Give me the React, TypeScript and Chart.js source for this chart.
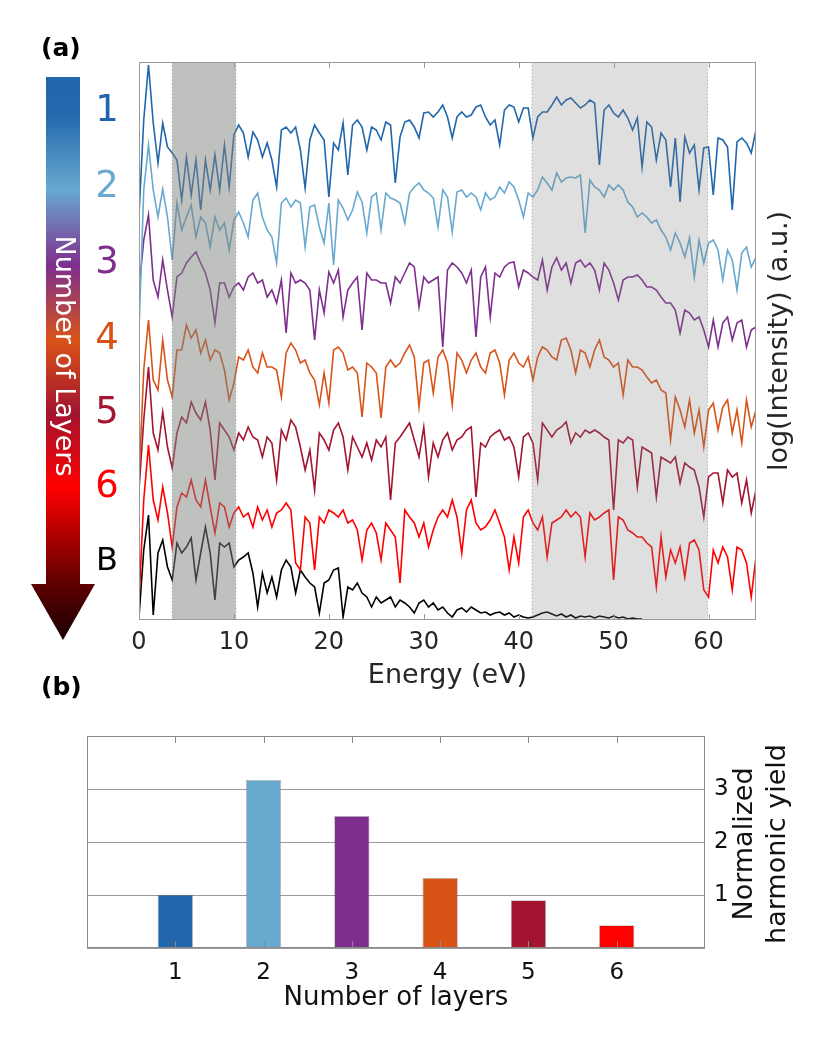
import React, { useEffect, useRef } from 'react';
import Chart from 'chart.js/auto';

const FONT = '"DejaVu Sans", sans-serif';

// energy grid of the spectra (eV), one sample every 0.5 eV from 0 to 65
const ENERGY = Array.from({ length: 131 }, (_, i) => i * 0.5);

// log(intensity), already stacked as in the figure (a.u.)
const SPECTRUM_1 = [
  40.5, 50, 55.5, 49.7, 45.7, 49.7, 47.3, 46.7, 46, 42,
  46.3, 42.5, 46, 41, 46, 43, 46.5, 43, 47.5, 43.3,
  48.5, 49.5, 48.7, 46.3, 48.8, 48, 46.3, 47.7, 46, 43.3,
  49, 49.3, 48.7, 49.3, 47, 43.2, 48, 49.5, 48.7, 48,
  42.3, 47.7, 47, 49.7, 44.5, 49.5, 50, 49.3, 47, 49.3,
  49, 48, 49.8, 49.5, 43.7, 48.3, 49.8, 50, 49.3, 48.2,
  50.7, 50.8, 50.3, 50.8, 51.5, 50.3, 48.2, 50.3, 50.8, 50.3,
  50.5, 51.3, 51.5, 50.3, 49.5, 50, 47.5, 51, 51.5, 51.3,
  49.8, 51.2, 51.2, 48.2, 50.3, 50.8, 50.8, 51.5, 52.3, 51.5,
  52, 52.2, 51.7, 51.2, 51.5, 52, 51.7, 45.5, 51, 51.5,
  50.7, 50.3, 51, 50.2, 49, 50.2, 45.3, 49.8, 49.3, 46,
  48.7, 48, 43.3, 48.2, 41.8, 48.3, 46.7, 47.5, 43, 47.2,
  47.3, 42.5, 48.2, 48, 47.3, 41, 47.8, 48.2, 47.7, 46.7,
  49,
];
const SPECTRUM_2 = [
  29, 43, 47.5, 43, 40.3, 43.1, 40.3, 36, 41.7, 39,
  40.3, 41.5, 38.3, 40.3, 39.7, 37.3, 40.3, 39, 39.7, 37,
  40, 40.8, 39.7, 38.3, 42, 42.7, 40.3, 39, 38.3, 35.7,
  41.7, 42.2, 41.3, 42, 41.7, 37.3, 41.3, 41.5, 39.3, 37.7,
  41.7, 35.5, 42, 41.2, 40, 41, 42.8, 41.8, 38.7, 42.3,
  42.7, 39, 42.7, 42.2, 42, 41.7, 39.7, 42.7, 43.3, 43.7,
  43, 42.7, 42.2, 39.3, 43, 42.3, 38.8, 42.8, 43, 42.3,
  42.7, 42.3, 41, 42.7, 42, 42.3, 43.3, 42.7, 43.8, 43.3,
  42, 40.3, 42.7, 42.3, 43, 44.3, 43.7, 43, 44.7, 43.8,
  44.2, 44.3, 44.2, 44.5, 38.7, 44, 43.3, 43, 42.3, 43.5,
  43, 43.5, 43, 41.8, 41.3, 40.3, 40.7, 40.3, 39.7, 40,
  39, 38.3, 37, 38.7, 37.7, 36.3, 38.2, 34.3, 38, 35.7,
  37.7, 38, 37, 34, 37, 36, 33, 36.7, 37.3, 35.3,
  36.3,
];
const SPECTRUM_3 = [
  33, 38, 40.5, 34, 32.3, 36, 33, 30.3, 34.3, 34.7,
  35.7, 36.3, 36.8, 35.7, 34.7, 33, 29.7, 33.7, 33.7, 32.3,
  33.3, 33.7, 33, 34.3, 34.7, 33.7, 34, 32.3, 33, 31.7,
  34, 28.7, 34.7, 33.7, 34, 33.7, 33, 28, 33, 30.7,
  34.8, 33.7, 35, 30.3, 33, 33.7, 34.3, 29, 34.7, 34,
  34, 33.7, 33.7, 31.7, 34.3, 33.7, 34.7, 35.7, 35.3, 31.3,
  34.3, 33.7, 34, 34.3, 27.3, 35, 35.7, 35.3, 34.7, 33.7,
  35, 28.3, 34.3, 35.3, 30.3, 34.7, 34.3, 35.3, 35.7, 35.8,
  33.3, 35, 34.7, 34.3, 34, 36, 33, 35.3, 36.2, 35,
  35.7, 33.7, 35.7, 36, 35.3, 35.7, 35, 33, 35.7, 35,
  33.7, 32, 34, 34.3, 34.3, 34.5, 34, 33.3, 33.3, 33,
  32.3, 31.7, 31.7, 31, 28.7, 31, 30.7, 30, 30.3, 29,
  27.3, 30, 27.3, 29.7, 30.3, 28, 29.7, 30, 27.3, 29,
  29.3,
];
const SPECTRUM_4 = [
  14, 25, 30, 24, 23, 28, 24, 22.3, 27, 27,
  29.5, 28.2, 29, 26.7, 28, 26, 27, 26.7, 25, 22,
  23.7, 26.3, 26, 27, 25.3, 24.7, 26.7, 25.3, 25.3, 25,
  22.3, 26.7, 27.7, 27, 25.7, 26, 24.7, 24, 21.5, 24.7,
  21.7, 27, 27.3, 26.7, 25, 25.3, 24.7, 20.3, 25.7, 25.3,
  24.7, 20.2, 25.3, 26, 25.3, 25.7, 26.7, 27.5, 26.3, 21.3,
  25.7, 26, 22.7, 26.3, 27, 25.7, 21.5, 26.7, 26, 24.7,
  26, 26.7, 25.3, 24.7, 26.7, 27, 25.7, 22.5, 26, 26.7,
  25.7, 25.3, 26.3, 24, 26.3, 27.3, 27, 26.3, 26, 28,
  28.2, 27, 24.7, 27, 26.7, 25.3, 27, 28, 26.3, 26,
  25.3, 25.7, 22.5, 26, 25.3, 25.3, 25, 24.3, 23.7, 24,
  23, 22.7, 18, 22.3, 21, 19.3, 22, 18.7, 21, 17.3,
  21, 21.7, 19, 21.3, 22, 18.7, 21, 17.7, 22, 19.3,
  21,
];
const SPECTRUM_5 = [
  13, 20, 25.3, 18.7, 17, 20.8, 17.3, 15.2, 18.7, 20.3,
  19.7, 21.8, 20.7, 20, 21.8, 19, 14, 19.7, 19, 18.3,
  17, 18.7, 18, 19.3, 18.3, 18, 16.3, 18.3, 17.7, 14,
  19, 18, 20, 19.3, 17.3, 15, 17, 13, 18.7, 18,
  17, 19, 19.7, 18.3, 15, 18.3, 17.3, 16.3, 17.7, 16,
  18, 17.3, 18.3, 12, 17.7, 18.3, 19, 19.7, 18, 16.3,
  19.3, 14.3, 17.7, 16.3, 18, 18.7, 17, 18, 18.3, 19,
  19.3, 12.3, 17.7, 17.3, 18.3, 18.7, 19, 18, 18.3, 17.3,
  14.3, 18.3, 18.7, 17.7, 14, 19.7, 19, 18.3, 19, 19.3,
  19.8, 17.7, 18.7, 18.3, 19, 18.7, 19, 18.7, 18.3, 18,
  11, 18, 17.7, 18.3, 18, 13.3, 17.3, 17, 16.7, 12.3,
  16.3, 16, 15.7, 16.3, 13.7, 15.7, 15.3, 15, 13.3, 10.3,
  14.3, 14.7, 14.7, 11.7, 15, 14.3, 14.7, 11.7, 14, 10.7,
  13,
];
const SPECTRUM_6 = [
  2, 12, 17.5, 12, 10, 13.3, 10.7, 7.3, 11.3, 12.7,
  12.3, 14, 12, 11.3, 14, 11.3, 8.7, 11.7, 11.3, 9.3,
  10.7, 11.3, 10.3, 10.7, 9.3, 11.3, 10, 11, 9.3, 10.7,
  11, 11.7, 11, 5.7, 5, 10.3, 9.7, 5, 10.3, 9.7,
  11, 10.7, 10.3, 11, 9.7, 10, 9, 6, 9, 9.7,
  8.7, 6, 9.7, 9, 8.3, 3.7, 11, 10.3, 9.7, 8.3,
  9.7, 7.3, 9, 10.3, 11, 10.3, 12, 10.3, 6.7, 11,
  12, 9.7, 9, 9.3, 10, 11, 9.7, 8.3, 5, 8.3,
  5.7, 10.3, 11, 9.7, 9, 10.3, 6.3, 9.7, 10, 10.3,
  11, 10.3, 10.8, 10.3, 6.3, 10.7, 10, 10.3, 10.7, 11,
  4, 10.3, 10, 9, 8.7, 8.3, 8.3, 7.7, 7.3, 3.3,
  8.3, 4.3, 7, 5.7, 7.3, 4.3, 7.7, 8, 7, 3,
  2.3, 7, 5.7, 7.3, 6.3, 3, 7.3, 7, 5.7, 2.3,
  6.3,
];
const SPECTRUM_B = [
  0.3, 7, 10.5, 0.5, 6.7, 8, 5.3, 4, 7.7, 6.7,
  7.3, 8.2, 4, 6.7, 9.3, 6.7, 2, 7.7, 7.3, 7.7,
  5.3, 6, 6.3, 6.7, 4.7, 1.3, 4.7, 2.7, 4.3, 2.3,
  5, 6, 5.3, 2.7, 5, 4.3, 3.7, 3.3, 0.7, 3.7,
  4, 5, 5.2, 0.3, 3.3, 3, 3.7, 2.7, 2.3, 1.3,
  2.3, 1.7, 2, 2.3, 1.3, 2, 1.7, 1.3, 0.7, 1.7,
  2, 1.3, 1.7, 1, 1.3, 0.7, 0.3, 1, 1.2, 0.8,
  1.3, 1, 0.7, 0.8, 0.5, 0.7, 0.8, 0.5, 0.7, 0.3,
  0.5, 0.3, 0.2, 0.3, 0.5, 0.7, 0.8, 0.6, 0.4, 0.6,
  0.3, 0.5, 0.2, 0.4, 0.3, 0.4, 0.2, 0.4, 0.3, 0.2,
  0.4, 0.2, 0.3, 0.1, 0.2, 0.1, 0.1, null, null, null,
  null, null, null, null, null, null, null, null, null, null,
  null, null, null, null, null, null, null, null, null, null,
  null,
];

const SPECTRA = [SPECTRUM_1, SPECTRUM_2, SPECTRUM_3, SPECTRUM_4, SPECTRUM_5, SPECTRUM_6, SPECTRUM_B];
const SPECTRUM_NAMES = ['1', '2', '3', '4', '5', '6', 'B'];
const COLORS = ['#2166ac', '#67a9cf', '#7e2f8e', '#d95319', '#a2142f', '#ff0000', '#000000'];

// shaded energy windows (eV)
const SHADED_RANGES = [[3.5, 10.2], [41.4, 59.9]];
const ENERGY_TICKS = [0, 10, 20, 30, 40, 50, 60];

// panel (b)
const LAYERS = [1, 2, 3, 4, 5, 6];
const HARMONIC_YIELD = [1.0, 3.17, 2.49, 1.32, 0.9, 0.43];
const YIELD_TICKS = [1, 2, 3];

const spectraDecor = {
  id: 'spectraDecor',
  afterDatasetsDraw(chart: any) {
    const { ctx, chartArea: a, scales } = chart;
    const fills = ['rgba(128,132,128,0.5)', 'rgba(128,128,128,0.25)'];
    ctx.save();
    SHADED_RANGES.forEach(([from, to], i) => {
      const x1 = scales.x.getPixelForValue(from);
      const x2 = scales.x.getPixelForValue(to);
      ctx.fillStyle = fills[i];
      ctx.fillRect(x1, a.top, x2 - x1, a.bottom - a.top);
      ctx.strokeStyle = 'rgba(110,110,110,0.45)';
      ctx.lineWidth = 1;
      ctx.setLineDash([1.5, 2]);
      [x1, x2].forEach((px) => {
        ctx.beginPath();
        ctx.moveTo(px, a.top);
        ctx.lineTo(px, a.bottom);
        ctx.stroke();
      });
    });
    ctx.restore();
  },
  afterDraw(chart: any) {
    const { ctx, chartArea: a, scales } = chart;
    ctx.save();

    // frame and inward ticks
    ctx.strokeStyle = '#9a9a9a';
    ctx.lineWidth = 1;
    ctx.strokeRect(a.left + 0.5, a.top + 0.5, a.right - a.left - 1, a.bottom - a.top - 1);
    ENERGY_TICKS.forEach((e) => {
      if (e === 0) return;
      const px = Math.round(scales.x.getPixelForValue(e)) + 0.5;
      ctx.beginPath();
      ctx.moveTo(px, a.top);
      ctx.lineTo(px, a.top + 6);
      ctx.moveTo(px, a.bottom);
      ctx.lineTo(px, a.bottom - 6);
      ctx.stroke();
    });

    // axis titles
    ctx.fillStyle = '#262626';
    ctx.font = `27px ${FONT}`;
    ctx.textAlign = 'center';
    ctx.textBaseline = 'alphabetic';
    ctx.fillText('Energy (eV)', (a.left + a.right) / 2, 683);
    ctx.save();
    ctx.translate(780, (a.top + a.bottom) / 2);
    ctx.rotate(-Math.PI / 2);
    ctx.textBaseline = 'middle';
    ctx.fillText('log(Intensity) (a.u.)', 0, 0);
    ctx.restore();

    // panel letter
    ctx.fillStyle = '#000';
    ctx.font = `bold 25px ${FONT}`;
    ctx.textAlign = 'left';
    ctx.textBaseline = 'middle';
    ctx.fillText('(a)', 41, 49);

    // gradient arrow
    const g = ctx.createLinearGradient(0, 77, 0, 640);
    g.addColorStop(0, 'rgb(33,102,172)');
    g.addColorStop(0.07, 'rgb(36,106,175)');
    g.addColorStop(0.2, 'rgb(103,169,207)');
    g.addColorStop(0.335, 'rgb(126,47,142)');
    g.addColorStop(0.467, 'rgb(217,83,25)');
    g.addColorStop(0.597, 'rgb(162,20,47)');
    g.addColorStop(0.728, 'rgb(255,0,0)');
    g.addColorStop(0.9, 'rgb(95,0,0)');
    g.addColorStop(1, 'rgb(25,0,0)');
    ctx.fillStyle = g;
    ctx.beginPath();
    ctx.moveTo(46, 77);
    ctx.lineTo(80, 77);
    ctx.lineTo(80, 584);
    ctx.lineTo(95, 584);
    ctx.lineTo(63, 640);
    ctx.lineTo(31, 584);
    ctx.lineTo(46, 584);
    ctx.closePath();
    ctx.fill();

    ctx.save();
    ctx.translate(63, 356);
    ctx.rotate(Math.PI / 2);
    ctx.fillStyle = '#ffffff';
    ctx.font = `27px ${FONT}`;
    ctx.textAlign = 'center';
    ctx.textBaseline = 'middle';
    ctx.fillText('Number of Layers', 0, 0);
    ctx.restore();

    // layer labels next to the arrow
    const labelY = [111, 187, 263, 339, 413, 487, 562];
    SPECTRUM_NAMES.forEach((name, i) => {
      ctx.fillStyle = COLORS[i];
      ctx.font = `${name === 'B' ? 32 : 37}px ${FONT}`;
      ctx.textAlign = 'center';
      ctx.textBaseline = 'middle';
      ctx.fillText(name, 107, labelY[i]);
    });

    ctx.restore();
  },
};

const yieldDecor = {
  id: 'yieldDecor',
  afterDraw(chart: any) {
    const { ctx, chartArea: a, scales } = chart;
    ctx.save();
    ctx.strokeStyle = '#8a8a8a';
    ctx.lineWidth = 1;
    ctx.strokeRect(a.left + 0.5, a.top + 0.5, a.right - a.left - 1, a.bottom - a.top - 1);
    LAYERS.forEach((n) => {
      const px = Math.round(scales.x.getPixelForValue(n)) + 0.5;
      ctx.beginPath();
      ctx.moveTo(px, a.top);
      ctx.lineTo(px, a.top + 7);
      ctx.moveTo(px, a.bottom);
      ctx.lineTo(px, a.bottom - 7);
      ctx.stroke();
    });

    ctx.fillStyle = '#111';
    ctx.font = `26px ${FONT}`;
    ctx.textAlign = 'center';
    ctx.textBaseline = 'alphabetic';
    ctx.fillText('Number of layers', (a.left + a.right) / 2, 335);

    ctx.save();
    ctx.translate(762, (a.top + a.bottom) / 2 + 2);
    ctx.rotate(-Math.PI / 2);
    ctx.font = `27px ${FONT}`;
    ctx.textBaseline = 'middle';
    ctx.fillText('Normalized', 0, -17);
    ctx.fillText('harmonic yield', 0, 16);
    ctx.restore();

    ctx.fillStyle = '#000';
    ctx.font = `bold 25px ${FONT}`;
    ctx.textAlign = 'left';
    ctx.textBaseline = 'middle';
    ctx.fillText('(b)', 41, 18);
    ctx.restore();
  },
};

function SpectraChart() {
  const canvasRef = useRef<HTMLCanvasElement>(null);

  useEffect(() => {
    if (!canvasRef.current) return;
    const chart = new Chart(canvasRef.current, {
      type: 'line',
      data: {
        datasets: SPECTRA.map((values, i) => ({
          label: SPECTRUM_NAMES[i],
          data: values.map((v, j) => ({ x: ENERGY[j], y: v })),
          borderColor: COLORS[i],
          borderWidth: 1.6,
          pointRadius: 0,
          tension: 0,
          fill: false,
        })),
      },
      options: {
        animation: false,
        responsive: false,
        events: [],
        layout: { padding: { left: 139, right: 74, top: 62, bottom: 20 } },
        plugins: { legend: { display: false }, tooltip: { enabled: false } },
        scales: {
          x: {
            type: 'linear',
            min: 0,
            max: 65,
            afterFit: (s: any) => { s.height = 60; },
            grid: { display: false, drawTicks: false },
            border: { display: false },
            ticks: {
              stepSize: 10,
              includeBounds: false,
              maxRotation: 0,
              padding: 8,
              color: '#262626',
              font: { family: FONT, size: 24 },
              callback: (v: any) => (ENERGY_TICKS.includes(v) ? String(v) : ''),
            },
          },
          y: { display: false, min: 0, max: 55.8 },
        },
      },
      plugins: [spectraDecor],
    } as any);
    return () => chart.destroy();
  }, []);

  return (
    <canvas
      ref={canvasRef}
      width={830}
      height={700}
      style={{ position: 'absolute', left: 0, top: 0, width: 830, height: 700 }}
    />
  );
}

function YieldChart() {
  const canvasRef = useRef<HTMLCanvasElement>(null);

  useEffect(() => {
    if (!canvasRef.current) return;
    const chart = new Chart(canvasRef.current, {
      type: 'bar',
      data: {
        datasets: [
          {
            label: 'Normalized harmonic yield',
            data: LAYERS.map((n, i) => ({ x: n, y: HARMONIC_YIELD[i] })),
            backgroundColor: COLORS.slice(0, 6),
            borderColor: 'rgba(0,0,0,0.3)',
            borderWidth: 0.8,
            barPercentage: 0.4,
            categoryPercentage: 1,
          },
        ],
      },
      options: {
        animation: false,
        responsive: false,
        events: [],
        layout: { padding: { left: 87, right: 85, top: 66, bottom: 66 } },
        plugins: { legend: { display: false }, tooltip: { enabled: false } },
        scales: {
          x: {
            type: 'linear',
            min: 0,
            max: 7,
            offset: false,
            afterFit: (s: any) => { s.height = 50; },
            grid: { display: false, drawTicks: false },
            border: { display: false },
            ticks: {
              stepSize: 1,
              includeBounds: false,
              maxRotation: 0,
              padding: 11,
              color: '#111',
              font: { family: FONT, size: 23 },
              callback: (v: any) => (LAYERS.includes(v) ? String(v) : ''),
            },
          },
          y: {
            position: 'right',
            min: 0,
            max: 4,
            afterFit: (s: any) => { s.width = 40; },
            grid: { color: '#9a9a9a', drawTicks: false },
            border: { display: false },
            ticks: {
              stepSize: 1,
              padding: 9,
              color: '#111',
              font: { family: FONT, size: 23 },
              callback: (v: any) => (YIELD_TICKS.includes(v) ? String(v) : ''),
            },
          },
        },
      },
      plugins: [yieldDecor],
    } as any);
    return () => chart.destroy();
  }, []);

  return (
    <canvas
      ref={canvasRef}
      width={830}
      height={394}
      style={{ position: 'absolute', left: 0, top: 670, width: 830, height: 394 }}
    />
  );
}

export default function App() {
  return (
    <div style={{ position: 'absolute', left: 0, top: 0, width: 830, height: 1064, background: '#fff' }}>
      <SpectraChart />
      <YieldChart />
    </div>
  );
}
